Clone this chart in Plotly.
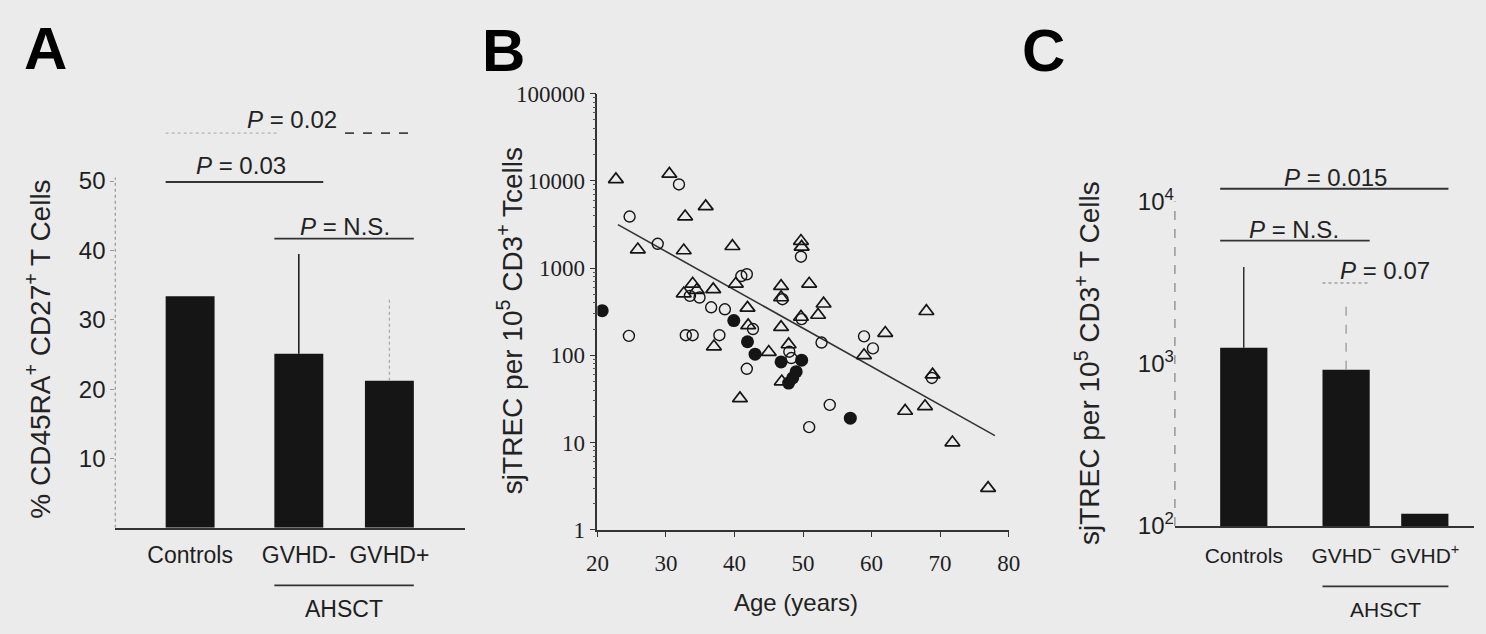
import plotly.graph_objects as go

# ---------------- data ----------------
# Panel A: naive CD45RA+ CD27+ T cells (%)
A_CATEGORIES = ["Controls", "GVHD-", "GVHD+"]
A_MEAN = [33.4, 25.1, 21.2]
A_UPPER_ERR = [0.0, 14.4, 11.8]

# Panel B: sjTREC vs age, three groups
TRI_AGE = [22.7, 30.5, 32.8, 35.8, 25.9, 32.6, 39.7, 49.7, 49.8, 50.9, 33.9, 32.6,
           36.9, 40.2, 41.9, 46.8, 46.8, 46.8, 47.9, 45.0, 53.0, 52.2, 49.7, 62.0,
           68.0, 68.9, 64.9, 67.8, 71.8, 77.0, 40.8, 37.0, 46.9, 58.9, 34.5, 42.0]
TRI_SJTREC = [10400, 12000, 3900, 5100, 1630, 1590, 1780, 2040, 1750, 660, 660, 510,
              570, 660, 350, 620, 460, 210, 133, 109, 390, 290, 275, 180,
              320, 60, 23, 26, 10, 3, 32, 126, 50, 100, 560, 220]

CIRC_AGE = [31.9, 24.7, 28.8, 24.6, 32.9, 33.9, 37.8, 34.9, 36.6, 38.6, 41.0, 41.8,
            42.7, 41.8, 49.7, 47.0, 48.3, 49.8, 52.7, 53.9, 50.9, 58.9, 60.2, 68.8,
            33.5, 48.0]
CIRC_SJTREC = [9100, 3900, 1900, 167, 170, 170, 170, 460, 355, 337, 810, 850,
               200, 70, 1350, 440, 93, 260, 140, 27, 15, 165, 120, 55,
               480, 110]

FILLED_AGE = [20.7, 39.9, 41.9, 43.0, 46.8, 47.9, 49.0, 49.8, 56.9, 48.5]
FILLED_SJTREC = [325, 250, 143, 103, 84, 48, 65, 88, 19, 55]

FIT_AGE = [23, 78]
FIT_SJTREC = [3150, 12]

B_X_TICKS = [20, 30, 40, 50, 60, 70, 80]
B_Y_TICKS = [1, 10, 100, 1000, 10000, 100000]
B_Y_TICKTEXT = ["1", "10", "100", "1000", "10000", "100000"]

# Panel C: sjTREC per 10^5 CD3+ T cells
C_CATEGORIES = ["Controls", "GVHD<sup>\u2212</sup>", "GVHD<sup>+</sup>"]
C_MEAN = [1250, 915, 119]
C_UPPER = [3940, 2500, None]
C_Y_TICKS = [100, 1000, 10000]
C_Y_TICKTEXT = ["10<sup>2</sup>", "10<sup>3</sup>", "10<sup>4</sup>"]

# ---------------- layout helpers ----------------
W, H = 1486, 634
BG = "#ebebeb"
INK = "#151515"
SANS = "Liberation Sans, Arial, sans-serif"
SERIF = "Liberation Serif, Times New Roman, serif"


def fx(px):
    return px / W


def fy(py):
    return 1 - py / H


A_POS = [0.0, 1.2, 2.2]
A_W = 0.54
C_POS = [0.0, 1.3, 2.3]
C_W = 0.6

# vertical frame of each panel (pixel rows)
A_BASE, A_PER_UNIT, A_TOP_VAL = 537, 7.22, 65
B_BASE, B_DECADE = 539, 90.8
C_BASE, C_DECADE, C_TOP_LOG = 535, 169.0, 4.25

fig = go.Figure()

# ---- Panel A ----
fig.add_trace(go.Bar(x=A_POS, y=A_MEAN, width=A_W, marker=dict(color=INK, line=dict(width=0)),
                     xaxis="x", yaxis="y"))
A_ERR_STYLE = [None, dict(color=INK, width=1.5, dash="solid"), dict(color="#a8a8a8", width=1.3, dash="dot")]
for p, m, e, st in zip(A_POS, A_MEAN, A_UPPER_ERR, A_ERR_STYLE):
    if e > 0:
        fig.add_trace(go.Scatter(x=[p, p], y=[m, m + e], mode="lines", line=st,
                                 xaxis="x", yaxis="y", hoverinfo="skip"))

# ---- Panel B ----
fig.add_trace(go.Scatter(x=FIT_AGE, y=FIT_SJTREC, mode="lines",
                         line=dict(color="#333333", width=1.6), xaxis="x2", yaxis="y2"))
fig.add_trace(go.Scatter(x=TRI_AGE, y=TRI_SJTREC, mode="markers",
                         marker=dict(symbol="triangle-up-open", size=13, color=INK, line=dict(width=1.7)),
                         xaxis="x2", yaxis="y2"))
fig.add_trace(go.Scatter(x=CIRC_AGE, y=CIRC_SJTREC, mode="markers",
                         marker=dict(symbol="circle-open", size=11, color=INK, line=dict(width=1.4)),
                         xaxis="x2", yaxis="y2"))
fig.add_trace(go.Scatter(x=FILLED_AGE, y=FILLED_SJTREC, mode="markers",
                         marker=dict(symbol="circle", size=13, color=INK),
                         xaxis="x2", yaxis="y2"))

# ---- Panel C ----
fig.add_trace(go.Bar(x=C_POS, y=C_MEAN, width=C_W, marker=dict(color=INK, line=dict(width=0)),
                     xaxis="x3", yaxis="y3"))
C_ERR_STYLE = [dict(color=INK, width=1.3, dash="solid"), dict(color="#999999", width=1.3, dash="dash"), None]
for p, m, u, st in zip(C_POS, C_MEAN, C_UPPER, C_ERR_STYLE):
    if u is not None:
        fig.add_trace(go.Scatter(x=[p, p], y=[m, u], mode="lines", line=st,
                                 xaxis="x3", yaxis="y3", hoverinfo="skip"))

tick_font = dict(family=SANS, size=24, color="#1e1e1e")
cat_font = dict(family=SANS, size=23, color="#1e1e1e")
c_cat_font = dict(family=SANS, size=21, color="#1e1e1e")
serif_font = dict(family=SERIF, size=23, color="#1e1e1e")

minor_vals = [m * 10 ** k for k in range(0, 5) for m in range(2, 10)]

fig.update_layout(
    width=W, height=H, margin=dict(l=0, r=0, t=0, b=0),
    paper_bgcolor=BG, plot_bgcolor=BG, showlegend=False,
    xaxis=dict(domain=[fx(105), fx(460)], range=[-0.826, 3.03], anchor="y",
               showline=True, linecolor="#333333", linewidth=2,
               tickvals=A_POS, ticktext=A_CATEGORIES, ticks="", ticklabelstandoff=6,
               tickfont=cat_font, showgrid=False, zeroline=False),
    yaxis=dict(domain=[fy(A_BASE), fy(A_BASE - A_TOP_VAL * A_PER_UNIT)], range=[0, A_TOP_VAL], anchor="x",
               tickvals=[10, 20, 30, 40, 50], ticks="outside", ticklen=4, tickcolor="#9a9a9a",
               showline=False, showgrid=False, zeroline=False, tickfont=tick_font),
    xaxis2=dict(domain=[fx(595), fx(1013)], range=[20, 80], anchor="y2",
                showline=True, linecolor="#333333", linewidth=1.6,
                tickvals=B_X_TICKS, ticks="outside", ticklen=5, tickcolor="#333333",
                ticklabelstandoff=7, tickfont=serif_font, showgrid=False, zeroline=False),
    yaxis2=dict(domain=[fy(B_BASE), fy(B_BASE - 5 * B_DECADE)], type="log", range=[0, 5], anchor="x2",
                showline=True, linecolor="#333333", linewidth=1.6,
                tickvals=B_Y_TICKS, ticktext=B_Y_TICKTEXT, ticks="outside", ticklen=6,
                tickcolor="#333333", tickfont=serif_font, showgrid=False, zeroline=False,
                minor=dict(tickvals=minor_vals, ticks="outside", ticklen=3, tickcolor="#555555")),
    xaxis3=dict(domain=[fx(1182), 1.0], range=[-0.875, 2.925], anchor="y3",
                showline=True, linecolor="#333333", linewidth=2,
                tickvals=C_POS, ticktext=C_CATEGORIES, ticks="", ticklabelstandoff=10,
                tickfont=c_cat_font, showgrid=False, zeroline=False),
    yaxis3=dict(domain=[fy(C_BASE), fy(C_BASE - (C_TOP_LOG - 2) * C_DECADE)], type="log",
                range=[2, C_TOP_LOG], anchor="x3",
                tickvals=C_Y_TICKS, ticktext=C_Y_TICKTEXT, ticks="",
                showline=False, showgrid=False, zeroline=False, tickfont=tick_font),
)

shapes = []
# dotted / dashed value axes of the bar panels
shapes.append(dict(type="line", xref="x domain", yref="y", x0=0, x1=0, y0=0, y1=50.5,
                   line=dict(color="#9a9a9a", width=1.3, dash="dot")))
shapes.append(dict(type="line", xref="x3 domain", yref="y3", x0=0, x1=0, y0=100, y1=10000,
                   line=dict(color="#8a8a8a", width=1.3, dash="dash")))


def bracket(xref, x0, x1, ypx, color="#333333", dash="solid", width=1.8):
    shapes.append(dict(type="line", xref=xref, yref="paper", x0=x0, x1=x1, y0=fy(ypx), y1=fy(ypx),
                       line=dict(color=color, width=width, dash=dash)))


# Panel A comparison brackets
bracket("x", A_POS[0] - A_W / 2, 0.97, 126, color="#b4b4b4", dash="dot", width=1.3)
bracket("x", 1.71, A_POS[2] + A_W / 2, 126, color="#444444", dash="dash")
bracket("x", A_POS[0] - A_W / 2, A_POS[1] + A_W / 2, 177)
bracket("x", A_POS[1] - A_W / 2, A_POS[2] + A_W / 2, 236)
bracket("x", A_POS[1] - A_W / 2, A_POS[2] + A_W / 2, 597)

# Panel C comparison brackets
bracket("x3", C_POS[0] - C_W / 2, C_POS[2] + C_W / 2, 184)
bracket("x3", C_POS[0] - C_W / 2, C_POS[1] + C_W / 2, 238)
bracket("x3", C_POS[1] - C_W / 2, C_POS[1] + C_W / 2, 282, color="#a0a0a0", dash="dot", width=1.5)
bracket("x3", C_POS[1] - C_W / 2, C_POS[2] + C_W / 2, 598)

fig.update_layout(shapes=shapes)

p_font = dict(family=SANS, size=24, color="#222222")
annotations = []


def label(text, x, y, xref="paper", font=None, angle=0):
    annotations.append(dict(text=text, x=x, y=y, xref=xref, yref="paper", showarrow=False,
                            xanchor="center", yanchor="middle", textangle=angle,
                            font=font or p_font))


# panel letters
big = dict(family=SANS, size=60, color="#000000")
label("<b>A</b>", fx(34), fy(38), font=big)
label("<b>B</b>", fx(500), fy(40), font=big)
label("<b>C</b>", fx(1048), fy(40), font=big)

# axis titles
title_font = dict(family=SANS, size=28, color="#222222")
label("% CD45RA<sup>+</sup> CD27<sup>+</sup> T Cells", fx(27), fy(351), font=title_font, angle=-90)
label("sjTREC per 10<sup>5</sup> CD3<sup>+</sup> Tcells", fx(507), fy(321), font=title_font, angle=-90)
label("sjTREC per 10<sup>5</sup> CD3<sup>+</sup> T Cells", fx(1093), fy(365), font=title_font, angle=-90)
label("Age (years)", fx(797), fy(615), font=dict(family=SANS, size=24, color="#222222"))

# P values, panel A
label("<i>P</i> = 0.02", 1.13, fy(112), xref="x")
label("<i>P</i> = 0.03", 0.565, fy(160), xref="x")
label("<i>P</i> = N.S.", 1.71, fy(223), xref="x")
label("AHSCT", (A_POS[1] + A_POS[2]) / 2, fy(621), xref="x", font=cat_font)

# P values, panel C
label("<i>P</i> = 0.015", 1.16, fy(172), xref="x3")
label("<i>P</i> = N.S.", 0.64, fy(226), xref="x3")
label("<i>P</i> = 0.07", 1.79, fy(269), xref="x3")
label("AHSCT", (C_POS[1] + C_POS[2]) / 2, fy(622), xref="x3", font=c_cat_font)

fig.update_layout(annotations=annotations)

fig.write_html("out.html")
